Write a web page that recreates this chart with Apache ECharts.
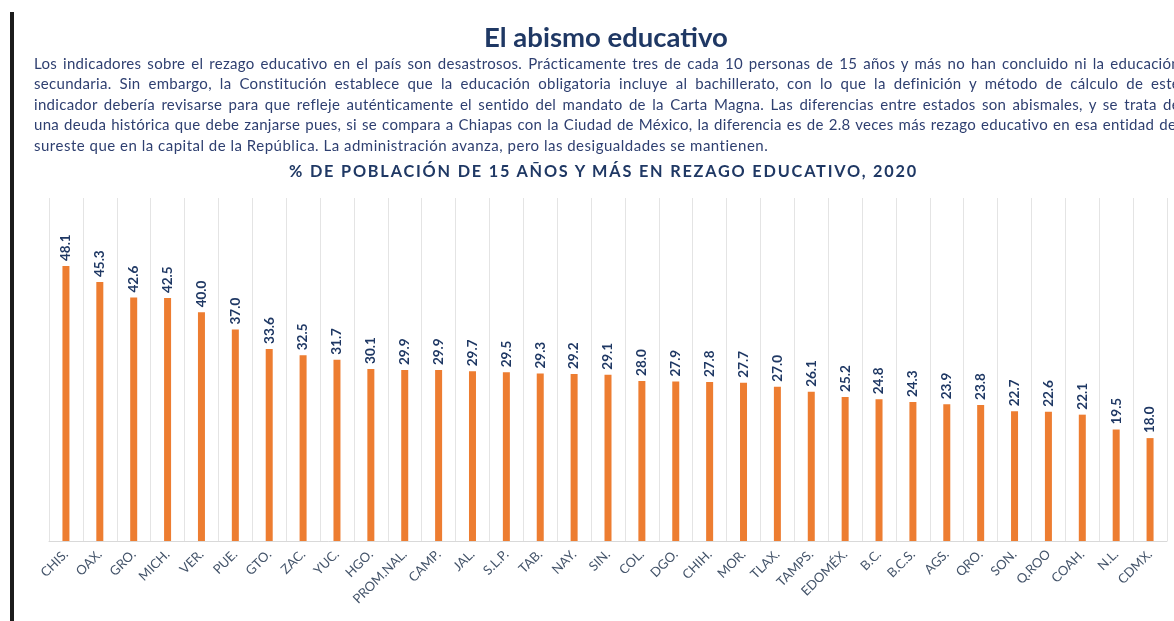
<!DOCTYPE html>
<html>
<head>
<meta charset="utf-8">
<script src="https://cdn.jsdelivr.net/npm/echarts@6/dist/echarts.min.js"></script>
<style>
    html, body { margin: 0; padding: 0; background: #fff; }
    body { width: 1174px; height: 621px; overflow: hidden; position: relative; font-family: Lato, "Noto Sans", sans-serif; }
    #chart { position: absolute; left: 0; top: 0; width: 1174px; height: 621px; }
    #edge { position: absolute; left: 10px; top: 12px; width: 4px; height: 609px; background: #1c1c1c; }
    #head { position: absolute; left: 0; top: 20px; width: 1174px; text-align: center; padding-left: 38px; box-sizing: border-box;
        font-size: 27.5px; font-weight: bold; color: #1f3864; }
    #para { position: absolute; left: 34px; top: 53px; width: 1146px; font-size: 15px; letter-spacing: 0.3px; line-height: 20.4px; color: #2e3f70; }
    #para div { text-align: justify; text-align-last: justify; height: 20.4px; overflow: hidden; }
    #para div.last { text-align-last: left; letter-spacing: 0.5px; }
    #sub { position: absolute; left: 0; top: 161px; width: 1174px; text-align: center; padding-left: 33px; box-sizing: border-box;
        font-size: 16.3px; font-weight: bold; letter-spacing: 1.8px; color: #1f3864; }
</style>
</head>
<body>
<div id="chart"></div>
<div id="edge"></div>
<div id="head">El abismo educativo</div>
<div id="para">
    <div>Los indicadores sobre el rezago educativo en el país son desastrosos. Prácticamente tres de cada 10 personas de 15 años y más no han concluido ni la educación</div>
    <div>secundaria. Sin embargo, la Constitución establece que la educación obligatoria incluye al bachillerato, con lo que la definición y método de cálculo de este</div>
    <div>indicador debería revisarse para que refleje auténticamente el sentido del mandato de la Carta Magna. Las diferencias entre estados son abismales, y se trata de</div>
    <div>una deuda histórica que debe zanjarse pues, si se compara a Chiapas con la Ciudad de México, la diferencia es de 2.8 veces más rezago educativo en esa entidad del</div>
    <div class="last">sureste que en la capital de la República. La administración avanza, pero las desigualdades se mantienen.</div>
</div>
<div id="sub">% DE POBLACIÓN DE 15 AÑOS Y MÁS EN REZAGO EDUCATIVO, 2020</div>
<script>
    // estados y porcentaje de rezago educativo
    const estados = ["CHIS.", "OAX.", "GRO.", "MICH.", "VER.", "PUE.", "GTO.", "ZAC.", "YUC.", "HGO.", "PROM.NAL.",
        "CAMP.", "JAL.", "S.L.P.", "TAB.", "NAY.", "SIN.", "COL.", "DGO.", "CHIH.", "MOR.", "TLAX.", "TAMPS.",
        "EDOMÉX.", "B.C.", "B.C.S.", "AGS.", "QRO.", "SON.", "Q.ROO", "COAH.", "N.L.", "CDMX."]
    const rezago = [48.1, 45.3, 42.6, 42.5, 40.0, 37.0, 33.6, 32.5, 31.7, 30.1, 29.9,
        29.9, 29.7, 29.5, 29.3, 29.2, 29.1, 28.0, 27.9, 27.8, 27.7, 27.0, 26.1,
        25.2, 24.8, 24.3, 23.9, 23.8, 22.7, 22.6, 22.1, 19.5, 18.0]

    const myChart = echarts.init(document.getElementById("chart"), null, { renderer: "canvas" })
    const option = {
        animation: false,
        grid: { left: 49, right: 7, top: 198, bottom: 80 },
        xAxis: {
            type: "category",
            data: estados,
            axisLine: { lineStyle: { color: "#d9d9d9" } },
            axisTick: { show: false },
            splitLine: { show: true, lineStyle: { color: "#e4e4e4", width: 1 } },
            axisLabel: {
                rotate: 45,
                interval: 0,
                margin: 11,
                color: "#44546a",
                fontSize: 13,
                fontFamily: "Lato",
            },
        },
        yAxis: {
            type: "value",
            min: 0,
            max: 60,
            show: false,
            splitLine: { show: false },
        },
        series: [
            {
                type: "bar",
                data: rezago,
                barWidth: 7,
                itemStyle: { color: "#ed7d31" },
                label: {
                    show: true,
                    position: "top",
                    rotate: 90,
                    align: "left",
                    verticalAlign: "middle",
                    distance: 5,
                    fontSize: 13.5,
                    fontWeight: "bold",
                    fontFamily: "Lato",
                    color: "#1f3864",
                    formatter: (p) => p.value.toFixed(1),
                },
            },
        ],
    }
    myChart.setOption(option)
</script>
</body>
</html>
